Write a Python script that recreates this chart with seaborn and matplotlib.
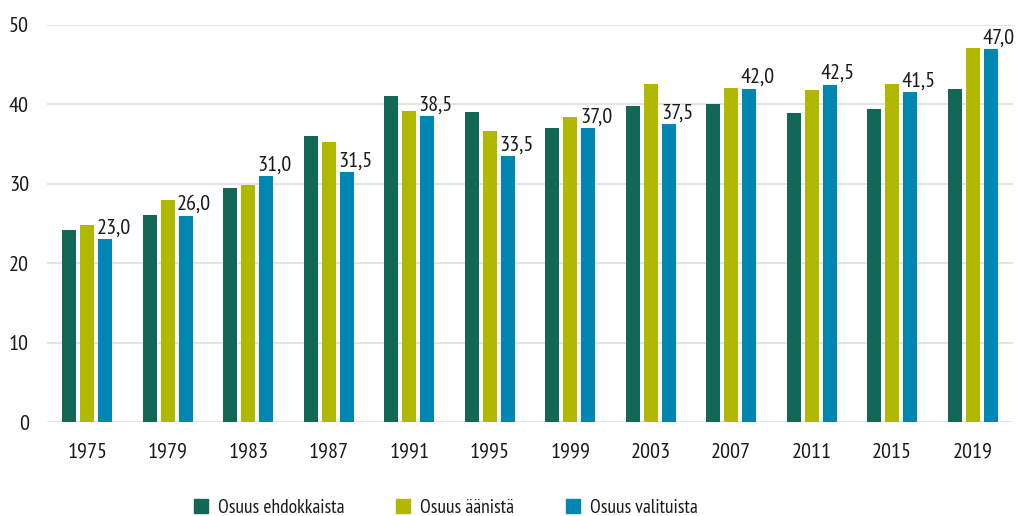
import pandas as pd
import matplotlib
matplotlib.use("Agg")
import matplotlib.pyplot as plt
from matplotlib.lines import Line2D
import seaborn as sns

years = ['1975', '1979', '1983', '1987', '1991', '1995',
         '1999', '2003', '2007', '2011', '2015', '2019']
series_names = ['Osuus ehdokkaista', 'Osuus äänistä', 'Osuus valituista']
ehdokkaista = [24.2, 26.1, 29.5, 36.0, 41.1, 39.1, 37.0, 39.8, 40.0, 38.9, 39.4, 42.0]
aanista = [24.8, 27.9, 29.8, 35.3, 39.2, 36.6, 38.4, 42.6, 42.1, 41.8, 42.6, 47.1]
valituista = [23.0, 26.0, 31.0, 31.5, 38.5, 33.5, 37.0, 37.5, 42.0, 42.5, 41.5, 47.0]
colors = ['#136756', '#B0B800', '#0086B2']


def main():
    plot_chart()


def plot_chart():
    sns.set_style("white")
    # condensed face if there is one, DejaVu otherwise
    plt.rcParams['font.family'] = ['PT Sans Narrow', 'Fira Sans Condensed',
                                   'Roboto Condensed', 'Liberation Sans Narrow',
                                   'DejaVu Sans']
    plt.rcParams['text.color'] = '#1a1a1a'

    df = pd.DataFrame({
        'Year': years * 3,
        'Series': [s for s in series_names for _ in years],
        'Value': ehdokkaista + aanista + valituista,
    })

    fig = plt.figure(figsize=(10.19, 5.16), dpi=100)
    ax = fig.add_axes([47 / 1019, 1 - 422 / 516, (1013 - 47) / 1019, (422 - 25) / 516])

    sns.barplot(data=df, x='Year', y='Value', hue='Series', palette=colors,
                saturation=1, width=0.67, gap=0.22, linewidth=0,
                legend=False, ax=ax)

    ax.set_ylim(0, 50)
    ax.set_xlim(-0.5, 11.5)
    ax.set_yticks(range(0, 51, 10))
    ax.yaxis.grid(True, color='#dcdcdc', linewidth=1.1)
    ax.set_axisbelow(True)
    sns.despine(ax=ax, left=True, bottom=True)
    ax.tick_params(axis='both', length=0, labelsize=16, colors='#1a1a1a')
    ax.tick_params(axis='y', pad=13)
    ax.tick_params(axis='x', pad=15)
    ax.set_xlabel('')
    ax.set_ylabel('')

    # value labels for the "valituista" bars
    for bar, v in zip(ax.containers[2], valituista):
        ax.annotate(f"{v:.1f}".replace('.', ','),
                    (bar.get_x() + bar.get_width() / 2, bar.get_height()),
                    xytext=(6, 1), textcoords='offset points',
                    ha='center', va='bottom', fontsize=16)

    handles = [Line2D([], [], marker='s', linestyle='none', markersize=9.5,
                      markerfacecolor=c, markeredgecolor=c) for c in colors]
    fig.legend(handles, series_names, loc='center', ncol=3,
               bbox_to_anchor=(446 / 1019, 1 - 508 / 516), frameon=False,
               fontsize=14, handlelength=0.7, handletextpad=0.51,
               columnspacing=2.7, borderpad=0)

    fig.savefig('out.png', dpi=100)


if __name__ == "__main__":
    main()
